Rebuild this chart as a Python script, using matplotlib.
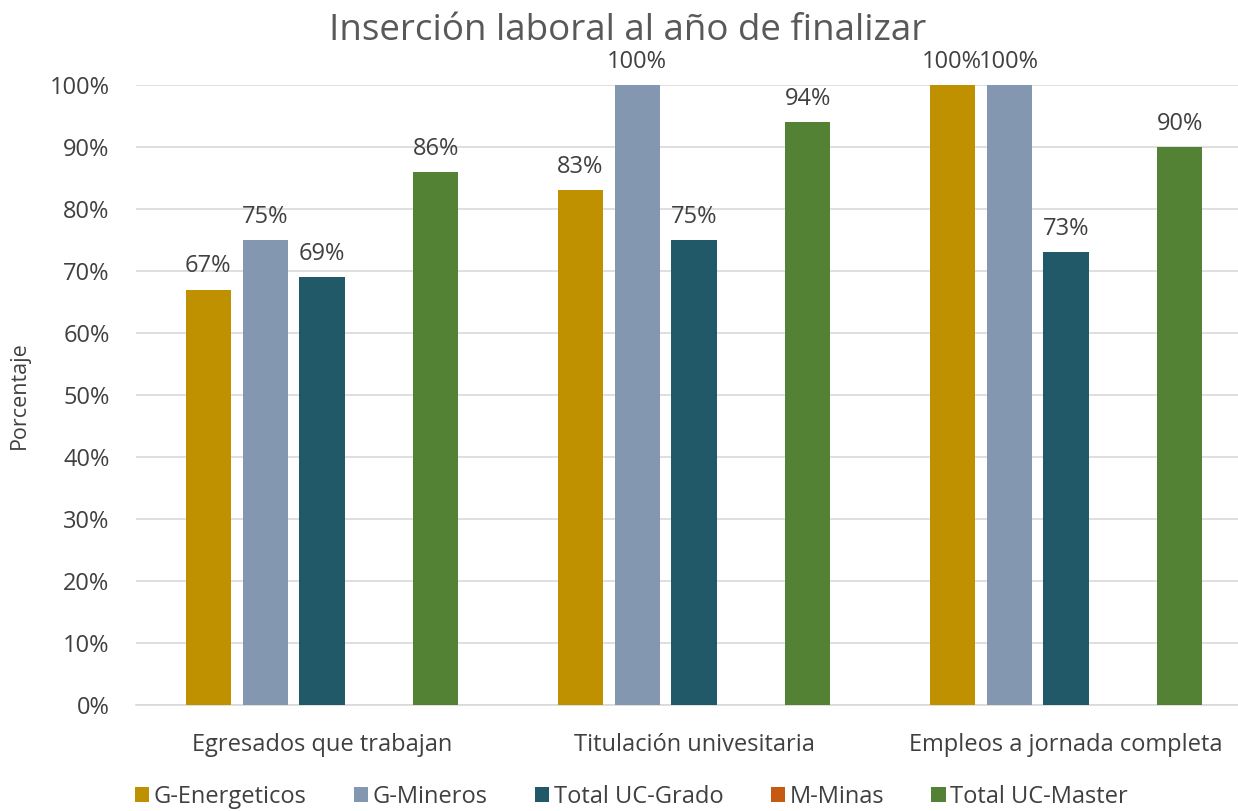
import numpy as np
import matplotlib.pyplot as plt

plt.rcParams['font.family'] = ['Open Sans', 'DejaVu Sans']

# data
categories = ['Egresados que trabajan', 'Titulación univesitaria', 'Empleos a jornada completa']
series = ['G-Energeticos', 'G-Mineros', 'Total UC-Grado', 'M-Minas', 'Total UC-Master']
energeticos = [0.67, 0.83, 1.00]
mineros = [0.75, 1.00, 1.00]
uc_grado = [0.69, 0.75, 0.73]
m_minas = [np.nan, np.nan, np.nan]
uc_master = [0.86, 0.94, 0.90]
colors = ['#BF9000', '#8497B0', '#215968', '#C55A11', '#548235']

values = [energeticos, mineros, uc_grado, m_minas, uc_master]

fig = plt.figure(figsize=(12.38, 8.11), dpi=100)
ax = fig.add_axes([136 / 1238, 106 / 811, 1102 / 1238, 620 / 811])

x = np.arange(len(categories))
step = 0.153
width = 0.121
txt = '#404040'

for i, (name, vals, col) in enumerate(zip(series, values, colors)):
    pos = x + (i - 2) * step
    ax.bar(pos, np.nan_to_num(vals), width, color=col, label=name, zorder=3)
    for p, v in zip(pos, vals):
        if np.isnan(v):
            continue
        ax.annotate(f'{v:.0%}', (p, v), xytext=(0, 8), textcoords='offset points',
                    ha='center', va='bottom', fontsize=17, color=txt)

ax.set_xlim(-0.5, -0.5 + 1102 / 372)
ax.set_ylim(0, 1)
ax.set_yticks(np.arange(0, 1.01, 0.1))
ax.set_yticklabels([f'{t:.0%}' for t in np.arange(0, 1.01, 0.1)])
ax.set_xticks(x)
ax.set_xticklabels(categories)
ax.tick_params(axis='both', length=0, labelsize=17, labelcolor=txt)
ax.tick_params(axis='y', pad=19)
ax.tick_params(axis='x', pad=20)
ax.grid(axis='y', color='#D9D9D9', linewidth=1.2, zorder=0)
for s in ['top', 'right', 'left']:
    ax.spines[s].set_visible(False)
ax.spines['bottom'].set_color('#D9D9D9')
ax.spines['bottom'].set_linewidth(1.2)
ax.set_ylabel('Porcentaje', fontsize=15.5, color=txt, labelpad=14)

fig.text(0.507, 0.962, 'Inserción laboral al año de finalizar', ha='center', va='center',
         fontsize=26.5, color='#595959')

fig.legend(loc='center', bbox_to_anchor=(0.51, 0.017), ncol=5, frameon=False,
           fontsize=17, handlelength=0.6, handleheight=0.6, handletextpad=0.2,
           columnspacing=2.0, labelcolor=txt)

fig.savefig('out.png', dpi=100)
